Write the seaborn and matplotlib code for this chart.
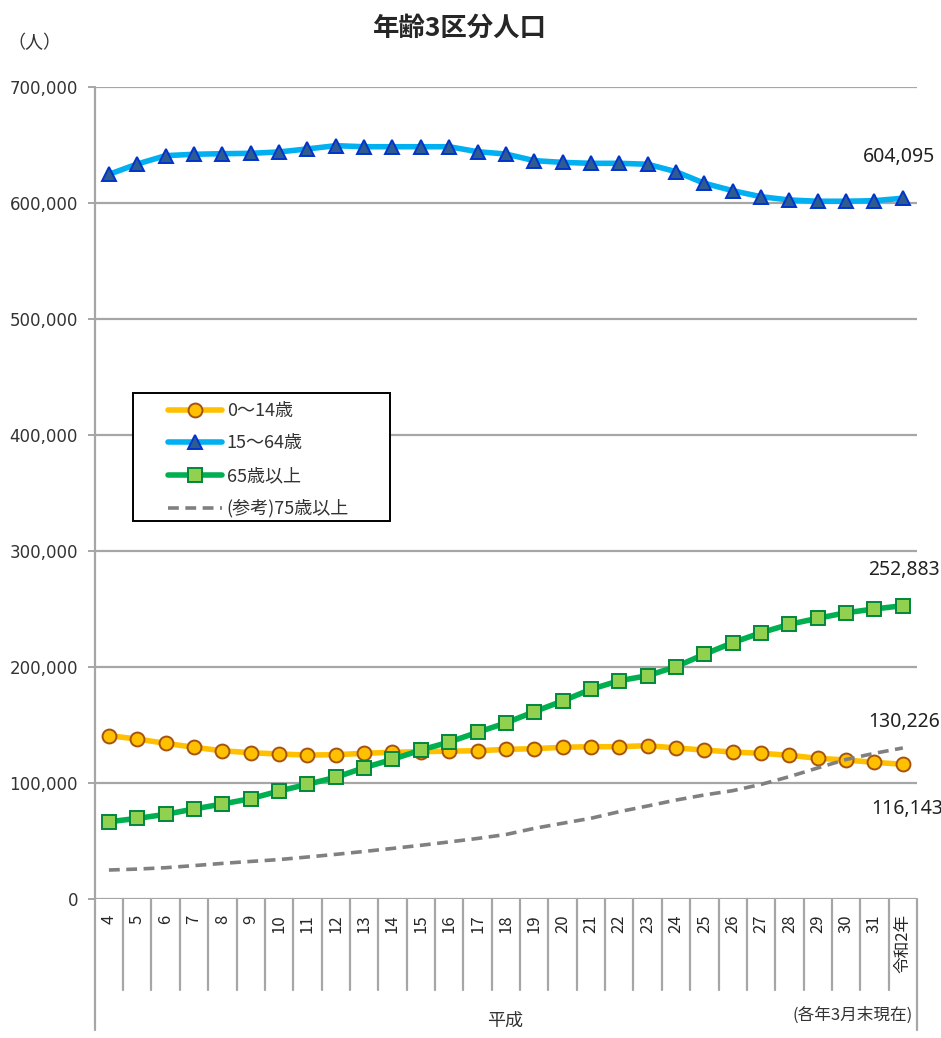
import numpy as np
import pandas as pd
import matplotlib
matplotlib.use('Agg')
import matplotlib.pyplot as plt
import matplotlib.transforms as mtransforms
from matplotlib.patches import Rectangle
import seaborn as sns

# データ (平成4年～令和2年, 各年3月末)
categories = [str(y) for y in range(4, 32)] + ['令和2年']
age_0_14 = [140800, 137900, 134200, 130800, 127800, 126100, 125000, 124100, 124400, 125600,
            126500, 127000, 127500, 127800, 129000, 129600, 130800, 131300, 131300, 132200,
            130200, 128400, 126700, 125600, 123900, 121300, 119800, 117800, 116143]
age_15_64 = [624700, 633600, 640800, 642000, 642500, 642800, 644000, 646600, 649400, 648500,
             648500, 648500, 648500, 644200, 642200, 636500, 635000, 634200, 634200, 633400,
             627000, 617000, 610600, 605400, 602600, 601500, 601500, 602000, 604095]
age_65 = [66600, 69500, 73000, 77600, 81900, 86500, 93100, 98900, 104900, 113200,
          120400, 128400, 135300, 143700, 151800, 161500, 170700, 180800, 188200, 192500,
          200300, 211000, 221000, 229600, 236800, 242000, 246800, 250000, 252883]
age_75 = [25000, 25800, 27000, 28800, 30700, 32400, 34000, 36200, 38500, 41000,
          43600, 46300, 49200, 52200, 55600, 60900, 65300, 69600, 75300, 80200,
          85300, 89700, 93400, 98800, 105500, 113000, 120300, 125600, 130226]
series_names = ['0～14歳', '15～64歳', '65歳以上', '(参考)75歳以上']
end_labels = ['116,143', '604,095', '252,883', '130,226']

sns.set_theme(style='white')
plt.rcParams['font.family'] = ['DejaVu Sans', 'Noto Sans CJK JP']
JP = ['Noto Sans CJK JP', 'DejaVu Sans']

df = pd.DataFrame({'pos': np.arange(len(categories)),
                   'a': age_0_14, 'b': age_15_64, 'c': age_65, 'd': age_75})

fig = plt.figure(figsize=(9.41, 10.38), dpi=100)
ax = fig.add_axes([0.1007, 0.1339, 0.8738, 0.7823])

grid_c = '#a6a6a6'

sns.lineplot(data=df, x='pos', y='a', ax=ax, color='#FFC000', lw=4, marker='o',
             markersize=10, markerfacecolor='#FFC000', markeredgecolor='#A5520F',
             markeredgewidth=1.4, label=series_names[0], zorder=3)
sns.lineplot(data=df, x='pos', y='b', ax=ax, color='#00B0F0', lw=4, marker='^',
             markersize=10, markerfacecolor='#2F5C8F', markeredgecolor='#0033CC',
             markeredgewidth=1.4, label=series_names[1], zorder=4)
sns.lineplot(data=df, x='pos', y='c', ax=ax, color='#00B050', lw=4, marker='s',
             markersize=9.5, markerfacecolor='#92D050', markeredgecolor='#00873C',
             markeredgewidth=1.4, label=series_names[2], zorder=5)
sns.lineplot(data=df, x='pos', y='d', ax=ax, color='#808080', lw=2.6,
             linestyle=(0, (3, 1.8)), label=series_names[3], zorder=6)

ax.set_xlim(-0.5, len(categories) - 0.5)
ax.set_ylim(0, 700000)
ax.set_yticks(np.arange(0, 700001, 100000))
ax.set_yticklabels([f'{v:,}' for v in range(0, 700001, 100000)], fontsize=12)
ax.yaxis.grid(True, color=grid_c, lw=1.6)
ax.xaxis.grid(False)
ax.set_xlabel('')
ax.set_ylabel('')
for s in ['top', 'right', 'bottom', 'left']:
    ax.spines[s].set_visible(False)
ax.tick_params(axis='y', which='both', left=True, length=5, width=1.4, color=grid_c,
               pad=7, labelcolor='#333333')

ax.set_xticks(df['pos'])
ax.set_xticklabels(categories, rotation=90, va='top', ha='center', fontsize=12,
                   family=JP)
ax.tick_params(axis='x', bottom=False, pad=5)

# 縦の区切り線
trans = mtransforms.blended_transform_factory(ax.transData, ax.transAxes)
bounds = np.arange(len(categories) + 1) - 0.5
for i, b in enumerate(bounds):
    outer = i == 0 or i == len(bounds) - 1
    ax.plot([b, b], [1.0 if i == 0 else 0, -0.161 if outer else -0.112],
            transform=trans, color=grid_c, lw=1.6, clip_on=False, zorder=1)

# 最終値ラベル
last = len(categories) - 1
for vals, lab, off in [(age_15_64, end_labels[1], (-3, 30)),
                       (age_65, end_labels[2], (1, 26)),
                       (age_75, end_labels[3], (1, 19)),
                       (age_0_14, end_labels[0], (3, -32))]:
    ax.annotate(lab, (last, vals[last]), xytext=off, textcoords='offset points',
                ha='center', va='center', fontsize=14, family=['Noto Sans'],
                color='#222222', annotation_clip=False)

# 凡例 (枠は別に描く)
ax.add_patch(Rectangle((133 / 941, 1 - 521 / 1038), 257 / 941, 128 / 1038,
                       transform=fig.transFigure, fill=True, facecolor='white',
                       edgecolor='black', lw=1.4, zorder=9, clip_on=False))
leg = ax.legend(loc='upper left', bbox_to_anchor=(168 / 941, 1 - 402 / 1038),
                bbox_transform=fig.transFigure, borderaxespad=0, borderpad=0,
                frameon=False, handlelength=3.0, handletextpad=0.25,
                labelspacing=0.8, prop={'family': JP, 'size': 13})
leg.set_zorder(10)
for t in leg.get_texts():
    t.set_color('#333333')

fig.text(0.489, 0.973, '年齢3区分人口', ha='center', va='center', fontsize=19,
         fontweight='bold', family=JP)
fig.text(0.037, 0.958, '（人）', ha='center', va='center', fontsize=13, family=JP,
         color='#333333')
fig.text(0.537, 0.017, '平成', ha='center', va='center', fontsize=13, family=JP,
         color='#333333')
fig.text(0.970, 0.022, '(各年3月末現在)', ha='right', va='center', fontsize=12,
         family=JP, color='#333333')

fig.savefig('out.png', dpi=100)
